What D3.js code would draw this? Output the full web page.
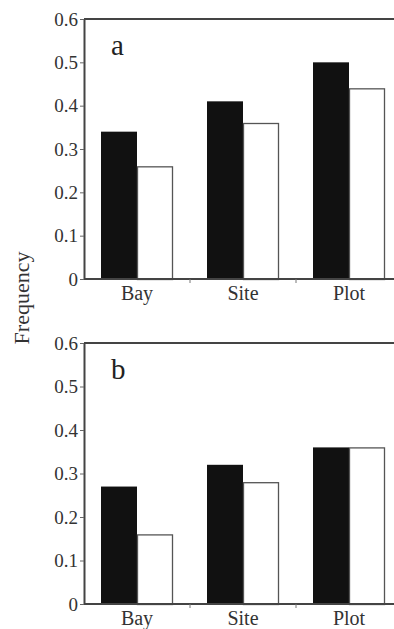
<!DOCTYPE html>
<html>
<head>
<meta charset="utf-8">
<script src="https://cdn.jsdelivr.net/npm/d3@7"></script>
<style>
  body { margin: 0; background: #fff; }
  svg { display: block; }
</style>
</head>
<body>
<div id="chart"></div>
<script>
const categories = ["Bay", "Site", "Plot"];
const series = ["filled", "open"];
const panelA = [0.34, 0.26, 0.41, 0.36, 0.50, 0.44];
const panelB = [0.27, 0.16, 0.32, 0.28, 0.36, 0.36];
const yTicks = [0, 0.1, 0.2, 0.3, 0.4, 0.5, 0.6];
const panelLabels = ["a", "b"];

function toRows(vals) {
    return categories.map((c, i) => ({cat: c, filled: vals[i * 2], open: vals[i * 2 + 1]}));
}

function chart() {
    const width = 394,
        height = 629;

    const svg = d3.select("#chart").append("svg")
        .attr("width", width)
        .attr("height", height)
        .style("font-family", "'Liberation Serif', 'DejaVu Serif', serif");

    const left = 84;
    const x0 = d3.scaleBand().domain(categories).range([left, left + 318]);
    const barW = 36;
    const x1 = d3.scaleBand().domain(series)
        .range([x0.bandwidth() / 2 - barW, x0.bandwidth() / 2 + barW]);

    const panels = [
        {data: toRows(panelA), top: 19, bottom: 279, label: panelLabels[0]},
        {data: toRows(panelB), top: 343, bottom: 604, label: panelLabels[1]}
    ];

    panels.forEach(p => {
        const y = d3.scaleLinear().domain([0, 0.6]).range([p.bottom, p.top]);
        const g = svg.append("g");

        // bars
        const groups = g.selectAll("g.grp").data(p.data).join("g")
            .attr("class", "grp")
            .attr("transform", d => `translate(${x0(d.cat)},0)`);

        groups.selectAll("rect").data(d => series.map(s => ({key: s, value: d[s]})))
            .join("rect")
            .attr("x", d => x1(d.key) + (d.key == "open" ? 0.5 : 0))
            .attr("width", d => x1.bandwidth() - (d.key == "open" ? 1 : 0))
            .attr("y", d => y(d.value) + (d.key == "open" ? 0.5 : 0))
            .attr("height", d => y(0) - y(d.value))
            .attr("fill", d => d.key == "filled" ? "#111" : "#fff")
            .attr("stroke", d => d.key == "filled" ? "none" : "#555")
            .attr("stroke-width", 1.3);

        // y axis
        const yAxis = g.append("g")
            .attr("transform", `translate(${left},0)`)
            .call(d3.axisLeft(y).tickValues(yTicks).tickSize(4).tickSizeOuter(0)
                .tickFormat(d => d == 0 ? "0" : d3.format(".1f")(d)));
        yAxis.attr("font-size", null).attr("font-family", null);
        yAxis.select(".domain").attr("stroke", "#444").attr("stroke-width", 2);
        yAxis.selectAll(".tick line").attr("stroke", "#666");
        yAxis.selectAll(".tick text")
            .attr("x", -6)
            .attr("fill", "#333")
            .style("font-size", "19px");

        // x axis
        const xAxis = g.append("g")
            .attr("transform", `translate(0,${p.bottom})`)
            .call(d3.axisBottom(x0).tickSize(0).tickSizeOuter(0));
        xAxis.attr("font-size", null).attr("font-family", null);
        xAxis.select(".domain").attr("d", `M${left},0H${width}`)
            .attr("stroke", "#444").attr("stroke-width", 2);
        xAxis.selectAll(".tick text")
            .attr("y", 7)
            .attr("fill", "#333")
            .style("font-size", "20px");
        xAxis.selectAll("line.sep").data(categories.slice(1)).join("line")
            .attr("class", "sep")
            .attr("x1", d => x0(d)).attr("x2", d => x0(d))
            .attr("y1", 0).attr("y2", 4)
            .attr("stroke", "#777");

        // top frame
        g.append("line")
            .attr("x1", left).attr("x2", width)
            .attr("y1", p.top).attr("y2", p.top)
            .attr("stroke", "#444").attr("stroke-width", 2);

        g.append("text")
            .attr("x", 111)
            .attr("y", p.top + 36)
            .attr("fill", "#222")
            .style("font-size", "29px")
            .text(p.label);
    });

    svg.append("text")
        .attr("transform", "translate(29,298) rotate(-90)")
        .attr("text-anchor", "middle")
        .attr("fill", "#333")
        .style("font-size", "22px")
        .text("Frequency");
}

window.onload = function() {
    chart();
};
</script>
</body>
</html>
